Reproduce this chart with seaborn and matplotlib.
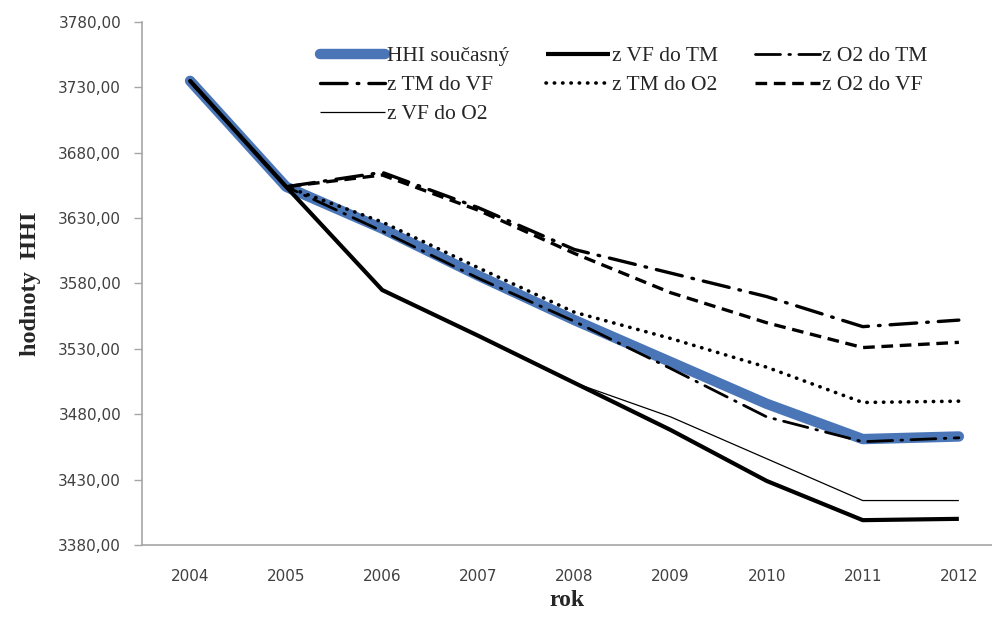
import matplotlib
matplotlib.use("Agg")
import matplotlib.pyplot as plt
import seaborn as sns
import pandas as pd
from matplotlib.ticker import FuncFormatter

# hodnoty
years = [2004, 2005, 2006, 2007, 2008, 2009, 2010, 2011, 2012]
hhi_soucasny = [3735, 3654, 3622, 3586, 3552, 3520, 3488, 3461, 3463]
z_vf_do_tm = [3735, 3654, 3575, 3540, 3504, 3468, 3429, 3399, 3400]
z_o2_do_tm = [3735, 3654, 3620, 3584, 3551, 3515, 3478, 3459, 3462]
z_tm_do_vf = [3735, 3654, 3665, 3638, 3606, 3588, 3570, 3547, 3552]
z_tm_do_o2 = [3735, 3654, 3627, 3592, 3558, 3538, 3516, 3489, 3490]
z_o2_do_vf = [3735, 3654, 3663, 3636, 3603, 3573, 3550, 3531, 3535]
z_vf_do_o2 = [3735, 3654, 3575, 3540, 3504, 3478, 3446, 3414, 3414]

labels = ['HHI současný', 'z VF do TM', 'z O2 do TM', 'z TM do VF',
          'z TM do O2', 'z O2 do VF', 'z VF do O2']
series = [hhi_soucasny, z_vf_do_tm, z_o2_do_tm, z_tm_do_vf,
          z_tm_do_o2, z_o2_do_vf, z_vf_do_o2]

# styl car (barva, sirka, cara, poradi)
styles = [
    dict(color='#4a76b8', lw=7.5, ls='-', z=2, cap='round'),
    dict(color='black', lw=3.0, ls='-', z=3, cap='butt'),
    dict(color='black', lw=2.0, ls=(0, (9, 3, 0.6, 3)), z=4, cap='round'),
    dict(color='black', lw=2.4, ls=(0, (8, 3, 0.5, 3)), z=4, cap='round'),
    dict(color='black', lw=2.6, ls=(0, (0.1, 2.2)), z=4, cap='round'),
    dict(color='black', lw=2.4, ls=(0, (3.5, 2)), z=4, cap='butt'),
    dict(color='black', lw=0.9, ls='-', z=3, cap='butt'),
]

sns.set_style('white')

fig = plt.figure(figsize=(9.92, 6.21), dpi=100)
ax = fig.add_axes([142 / 992, (621 - 545) / 621, 1 - 142 / 992, (545 - 22) / 621])

for lab, vals, st in zip(labels, series, styles):
    df = pd.DataFrame({'rok': years, 'hodnota': vals})
    sns.lineplot(data=df, x='rok', y='hodnota', ax=ax, label=lab,
                 color=st['color'], linewidth=st['lw'], linestyle=st['ls'],
                 zorder=st['z'], solid_capstyle=st['cap'],
                 dash_capstyle=st['cap'])

ax.set_xlim(2003.5, 2003.5 + (992 - 142) / 96.1)
ax.set_ylim(3380, 3780)
ax.set_yticks(range(3380, 3781, 50))
ax.set_xticks(years)
ax.yaxis.set_major_formatter(FuncFormatter(lambda v, p: f'{v:.2f}'.replace('.', ',')))

for s in ['top', 'right']:
    ax.spines[s].set_visible(False)
for s in ['left', 'bottom']:
    ax.spines[s].set_color('#a6a6a6')
    ax.spines[s].set_linewidth(1.2)

ax.tick_params(axis='y', which='major', left=True, length=6, width=1.0,
               color='#a6a6a6', labelsize=11, labelcolor='#404040', pad=9)
ax.tick_params(axis='x', which='major', bottom=False, labelsize=11,
               labelcolor='#404040', pad=14)
for t in ax.get_xticklabels() + ax.get_yticklabels():
    t.set_fontfamily('DejaVu Sans')

ax.set_xlabel('rok', fontfamily='Liberation Serif', fontweight='bold',
              fontsize=17, labelpad=4)
ax.set_ylabel('hodnoty  HHI', fontfamily='Liberation Serif', fontweight='bold',
              fontsize=17.5, labelpad=12)

# legenda radkove: Excel plni po radcich, matplotlib po sloupcich
h, l = ax.get_legend_handles_labels()
order = [0, 3, 6, 1, 4, 2, 5]
leg = ax.legend([h[i] for i in order], [l[i] for i in order], ncol=3,
                loc='upper left', bbox_to_anchor=(320 / 992, 1 - 46 / 621),
                bbox_transform=fig.transFigure, frameon=False,
                prop={'family': 'Liberation Serif', 'size': 15.5},
                handlelength=3.0, handletextpad=0.1, columnspacing=1.7,
                labelspacing=0.42, borderpad=0, borderaxespad=0)

fig.savefig('out.png', dpi=100)
